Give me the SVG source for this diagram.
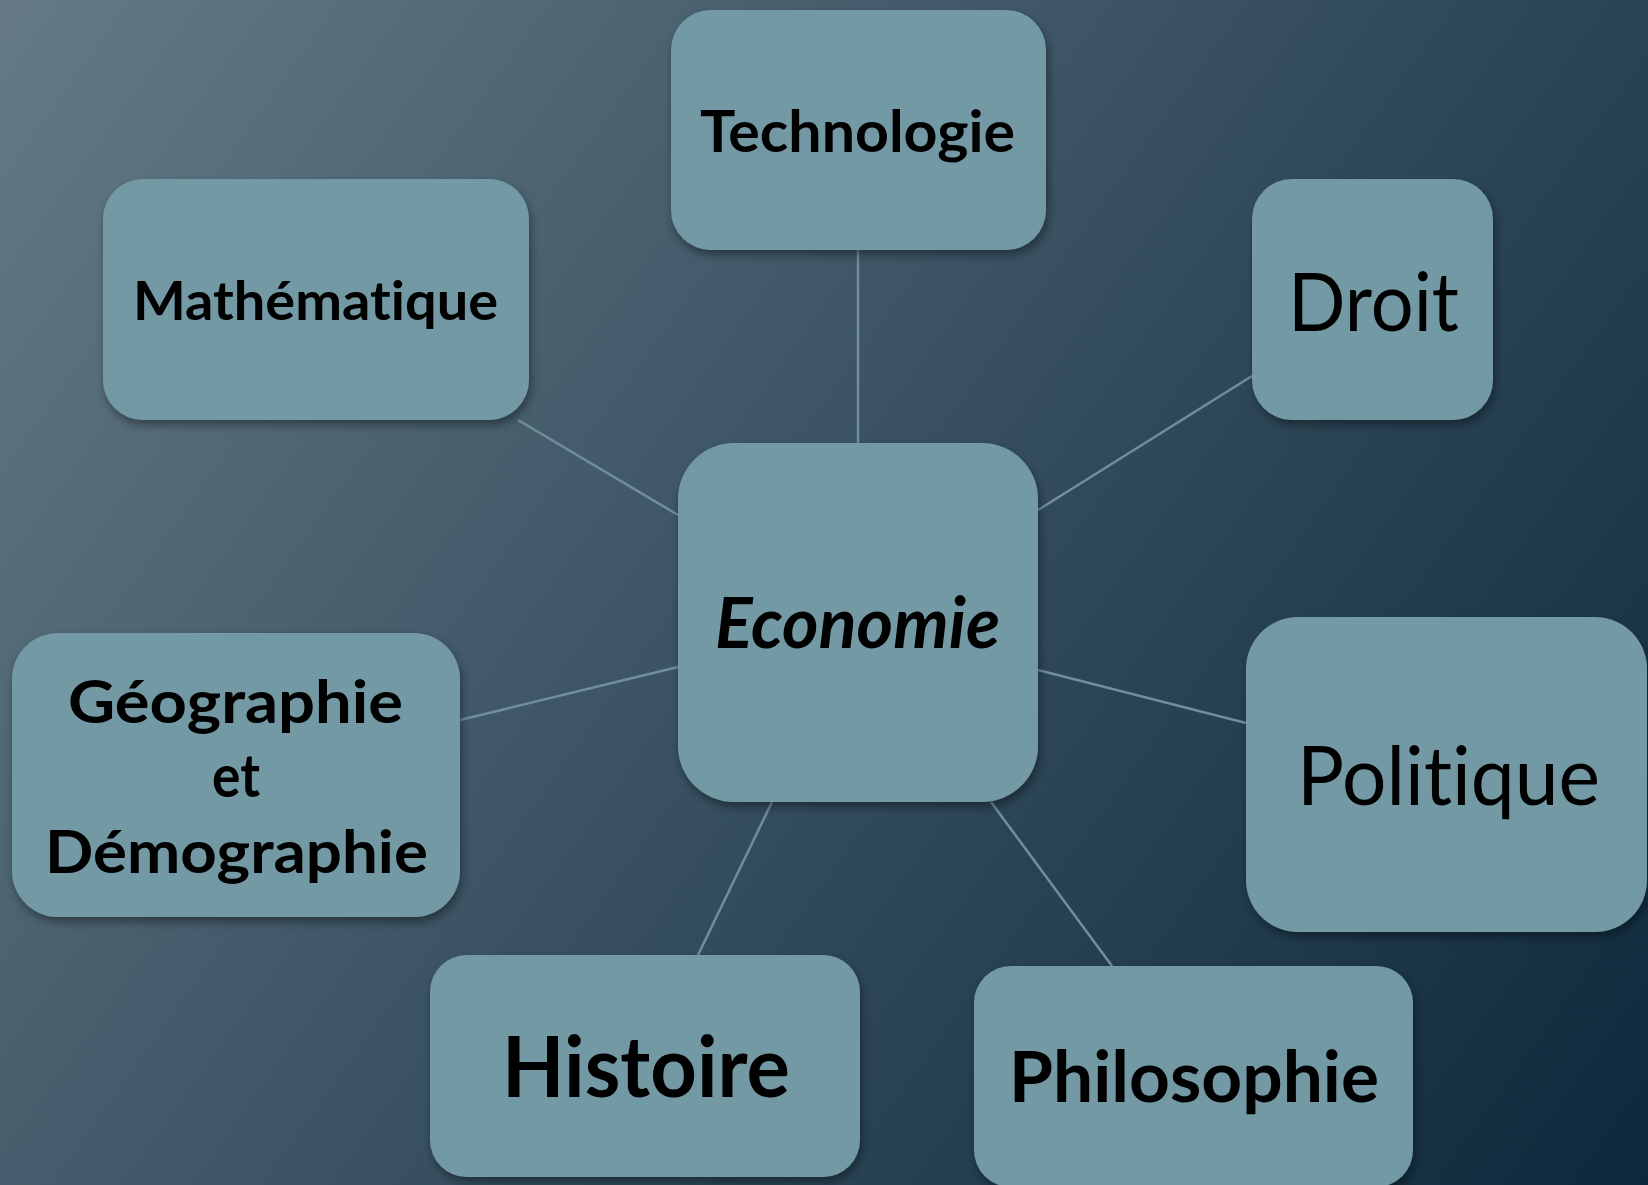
<svg xmlns="http://www.w3.org/2000/svg" width="1648" height="1185" viewBox="0 0 1648 1185">
<defs>
<linearGradient id="bg" x1="0" y1="0" x2="1648" y2="1185" gradientUnits="userSpaceOnUse">
<stop offset="0" stop-color="#657a86"/>
<stop offset="0.45" stop-color="#3c5464"/>
<stop offset="1" stop-color="#0c293b"/>
</linearGradient>
<filter id="sh" x="-10%" y="-10%" width="125%" height="130%">
<feDropShadow dx="2" dy="5" stdDeviation="5" flood-color="#000" flood-opacity="0.4"/>
</filter>
<style>
.box{fill:#7399a4;filter:url(#sh)}
.t{font-family:Lato,"Open Sans","Liberation Sans",sans-serif;fill:#000;font-variant-ligatures:none;font-feature-settings:"liga" 0,"clig" 0,"dlig" 0}
.b{font-weight:bold}
.r{font-weight:normal}
.conn line{stroke:#6f8f9a;stroke-width:2.5}
</style>
</defs>
<rect width="1648" height="1185" fill="url(#bg)"/>
<g id="connectors" class="conn">
<line x1="858" y1="250" x2="858" y2="443"/>
<line x1="518" y1="420" x2="678" y2="515"/>
<line x1="1252" y1="376" x2="1038" y2="510"/>
<line x1="460" y1="720" x2="678" y2="667"/>
<line x1="1246" y1="723" x2="1038" y2="670"/>
<line x1="698" y1="955" x2="772" y2="802"/>
<line x1="1112" y1="966" x2="991" y2="802"/>
</g>
<g id="technologie">
<rect class="box" x="671" y="10" width="375" height="240" rx="40"/>
<text class="t b" x="700" y="152" font-size="58" textLength="315" lengthAdjust="spacingAndGlyphs">Technologie</text>
</g>
<g id="mathematique">
<rect class="box" x="103" y="179" width="426" height="241" rx="40"/>
<text class="t b" x="133" y="320" font-size="53" textLength="365" lengthAdjust="spacingAndGlyphs">Mathématique</text>
</g>
<g id="droit">
<rect class="box" x="1252" y="179" width="241" height="241" rx="40"/>
<text class="t r" x="1288" y="331" font-size="82" textLength="171" lengthAdjust="spacingAndGlyphs">Droit</text>
</g>
<g id="economie">
<rect class="box" x="678" y="443" width="360" height="359" rx="56"/>
<text class="t b" x="715" y="648" font-size="70" font-style="italic" textLength="285" lengthAdjust="spacingAndGlyphs">Economie</text>
</g>
<g id="geographie">
<rect class="box" x="12" y="633" width="448" height="284" rx="46"/>
<text class="t b" font-size="60">
<tspan x="68" y="723" textLength="335" lengthAdjust="spacingAndGlyphs">Géographie</tspan>
<tspan x="212" y="797" textLength="48" lengthAdjust="spacingAndGlyphs">et</tspan>
<tspan x="45" y="873" textLength="383" lengthAdjust="spacingAndGlyphs">Démographie</tspan>
</text>
</g>
<g id="politique">
<rect class="box" x="1246" y="617" width="401" height="315" rx="52"/>
<text class="t r" x="1297" y="805" font-size="81" textLength="303" lengthAdjust="spacingAndGlyphs">Politique</text>
</g>
<g id="histoire">
<rect class="box" x="430" y="955" width="430" height="222" rx="37"/>
<text class="t b" x="502" y="1097" font-size="85" textLength="288" lengthAdjust="spacingAndGlyphs">Histoire</text>
</g>
<g id="philosophie">
<rect class="box" x="974" y="966" width="439" height="221" rx="37"/>
<text class="t b" x="1009" y="1102" font-size="70" textLength="370" lengthAdjust="spacingAndGlyphs">Philosophie</text>
</g>
</svg>
